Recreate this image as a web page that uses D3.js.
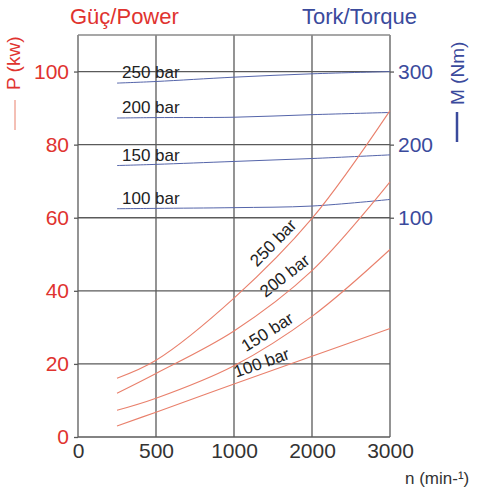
<!DOCTYPE html>
<html>
<head>
<meta charset="utf-8">
<script src="https://cdn.jsdelivr.net/npm/d3@7"></script>
<style>
  html, body { margin: 0; padding: 0; background: #fff; }
  svg { display: block; font-family: "Liberation Sans", Arial, sans-serif; }
</style>
</head>
<body>
<svg id="chart" width="481" height="493"></svg>
<script>
// ---- data ----
const rpm = [250, 500, 1000, 2000, 3000];
const xTicks = [0, 500, 1000, 2000, 3000];
const powerTicks = [0, 20, 40, 60, 80, 100];
const torqueTicks = [100, 200, 300];
const pressures = ["100 bar", "150 bar", "200 bar", "250 bar"];
const power100 = [3.0, 6.8, 14.5, 22.1, 29.7];
const power150 = [7.3, 10.6, 19.5, 33.0, 51.3];
const power200 = [12.0, 17.4, 29.0, 45.5, 69.8];
const power250 = [16.1, 21.0, 38.0, 59.8, 89.3];
const torque100 = [112.3, 112.8, 113.8, 116.0, 125.0];
const torque150 = [171.4, 173.0, 177.0, 181.0, 186.0];
const torque200 = [236.4, 237.0, 237.5, 241.0, 244.0];
const torque250 = [284.2, 286.4, 292.3, 296.9, 300.0];
const powerSeries = [power100, power150, power200, power250];
const torqueSeries = [torque100, torque150, torque200, torque250];

// ---- layout ----
const pL = 78, pR = 390, pT = 35, pB = 437;
const svg = d3.select("#chart");
const red = "#e0332f", blue = "#3a4a9c", curveRed = "#e9806c", lineBlue = "#5565aa";
const FF = "Liberation Sans, Arial, sans-serif";

const x = d3.scaleLinear()
  .domain(xTicks)
  .range(xTicks.map((d, i) => pL + i * (pR - pL) / (xTicks.length - 1)));
const y = d3.scaleLinear().domain([0, 110]).range([pB, pT]);
// torque axis: 100 Nm aligns with 60 kW, 300 Nm with 100 kW
const yT = d3.scaleLinear().domain([-200, 350]).range([pB, pT]);

// grid
const g = svg.append("g");
g.selectAll(".vg").data(xTicks).join("line")
  .attr("x1", d => x(d)).attr("x2", d => x(d))
  .attr("y1", pT).attr("y2", pB)
  .attr("stroke", "#5a5a5a").attr("stroke-width", 1.3);
g.selectAll(".hg").data(powerTicks).join("line")
  .attr("x1", pL).attr("x2", pR)
  .attr("y1", d => y(d)).attr("y2", d => y(d))
  .attr("stroke", "#5a5a5a").attr("stroke-width", 1.3);
g.append("line").attr("x1", pL).attr("x2", pR).attr("y1", pT).attr("y2", pT)
  .attr("stroke", "#8a8a8a").attr("stroke-width", 1.3);

// left axis
const la = svg.append("g").attr("transform", `translate(${pL},0)`)
  .call(d3.axisLeft(y).tickValues(powerTicks).tickSize(4).tickPadding(5));
la.select(".domain").remove();
la.selectAll(".tick line").attr("stroke", "#5a5a5a").attr("stroke-width", 1.3);
la.selectAll(".tick text").attr("fill", red).attr("font-size", 21).attr("font-family", FF);

// right axis
const ra = svg.append("g").attr("transform", `translate(${pR},0)`)
  .call(d3.axisRight(yT).tickValues(torqueTicks).tickSize(4).tickPadding(4));
ra.select(".domain").remove();
ra.selectAll(".tick line").attr("stroke", "#5a5a5a").attr("stroke-width", 1.3);
ra.selectAll(".tick text").attr("fill", blue).attr("font-size", 21).attr("font-family", FF);

// bottom axis
const ba = svg.append("g").attr("transform", `translate(0,${pB})`)
  .call(d3.axisBottom(x).tickValues(xTicks).tickFormat(d3.format("d")).tickSize(0).tickPadding(6));
ba.select(".domain").remove();
ba.selectAll(".tick text").attr("fill", "#333").attr("font-size", 21).attr("font-family", FF);

// torque lines
const lineT = d3.line().x((d, i) => x(rpm[i])).y(d => yT(d)).curve(d3.curveCatmullRom);
svg.selectAll(".tq").data(torqueSeries).join("path")
  .attr("d", d => lineT(d)).attr("fill", "none")
  .attr("stroke", lineBlue).attr("stroke-width", 1);
svg.selectAll(".tql").data(torqueSeries).join("text")
  .attr("x", x(rpm[0]) + 5).attr("y", d => yT(d[0]) - 5)
  .attr("font-size", 17).attr("fill", "#222")
  .text((d, i) => pressures[i]);

// power curves
const lineP = d3.line().x((d, i) => x(rpm[i])).y(d => y(d)).curve(d3.curveCatmullRom);
svg.selectAll(".pw").data(powerSeries).join("path")
  .attr("d", d => lineP(d)).attr("fill", "none")
  .attr("stroke", curveRed).attr("stroke-width", 1.1);

// rotated labels on power curves
const labelRpm = [1400, 1500, 1750, 1600];
const labelLift = [-5, -5, -7, -5];
powerSeries.forEach((s, i) => {
  const interp = r => {
    let k = 0; while (k < rpm.length - 2 && r > rpm[k + 1]) k++;
    const t = (r - rpm[k]) / (rpm[k + 1] - rpm[k]);
    return s[k] + t * (s[k + 1] - s[k]);
  };
  const r = labelRpm[i];
  const px = x(r), py = y(interp(r));
  const p1 = [x(r - 100), y(interp(r - 100))], p2 = [x(r + 100), y(interp(r + 100))];
  const ang = Math.atan2(p2[1] - p1[1], p2[0] - p1[0]) * 180 / Math.PI;
  svg.append("text")
    .attr("transform", `translate(${px},${py}) rotate(${ang})`)
    .attr("text-anchor", "middle").attr("dy", labelLift[i])
    .attr("font-size", 17).attr("fill", "#222")
    .text(pressures[i]);
});

// titles
svg.append("text").attr("x", 70).attr("y", 24).attr("font-size", 22).attr("fill", red).text("Güç/Power");
svg.append("text").attr("x", 302).attr("y", 24).attr("font-size", 22).attr("fill", blue).text("Tork/Torque");

// axis name labels
svg.append("text").attr("transform", "translate(20,90) rotate(-90)")
  .attr("font-size", 19).attr("fill", red).text("P (kw)");
svg.append("line").attr("x1", 15).attr("x2", 15).attr("y1", 100).attr("y2", 130)
  .attr("stroke", curveRed).attr("stroke-width", 1);
svg.append("text").attr("transform", "translate(464,105) rotate(-90)")
  .attr("font-size", 19).attr("fill", blue).text("M (Nm)");
svg.append("line").attr("x1", 457).attr("x2", 457).attr("y1", 112).attr("y2", 142)
  .attr("stroke", blue).attr("stroke-width", 2.5);

svg.append("text").attr("x", 405).attr("y", 484).attr("font-size", 17).attr("fill", "#333")
  .text("n (min-¹)");
</script>
</body>
</html>
